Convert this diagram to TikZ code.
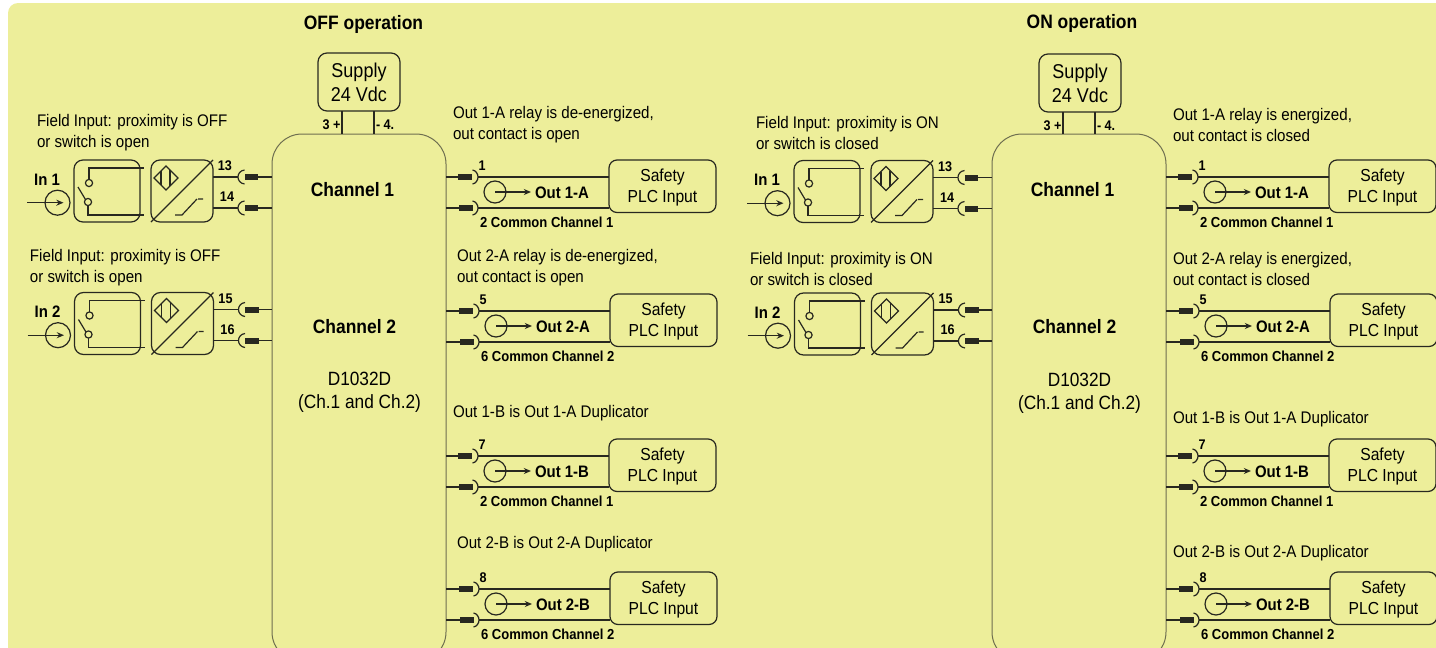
\documentclass[tikz,border=0pt]{standalone}
\usepackage{fontspec}
\setmainfont[FakeStretch=0.9]{Liberation Sans}
\definecolor{bgy}{RGB}{237,238,154}
\definecolor{ink}{RGB}{40,40,32}
\definecolor{edge}{RGB}{110,110,80}
\usetikzlibrary{arrows.meta}
\tikzset{
  ln/.style={draw=ink,line width=0.6pt},
  bx/.style={rectangle,draw=ink,line width=0.6pt,rounded corners=#1,inner sep=0pt,outer sep=0pt},
  bx/.default=4.5pt,
  body/.style={rectangle,draw=edge,line width=0.5pt,rounded corners=15pt,inner sep=0pt,outer sep=0pt},
  tx/.style={inner sep=0pt,outer sep=0pt,text=black,font=\fontsize{8.4}{10.5}\selectfont,align=left,yshift=-0.3pt},
  txc/.style={inner sep=0pt,outer sep=0pt,text=black,align=center},
  sm/.style={inner sep=0pt,outer sep=0pt,text=black,font=\fontsize{7}{8}\selectfont\bfseries},
  cmn/.style={inner sep=0pt,outer sep=0pt,text=black,font=\fontsize{7.25}{8}\selectfont\bfseries},
  lb/.style={inner sep=0pt,outer sep=0pt,text=black,font=\fontsize{8.3}{10}\selectfont\bfseries},
  hd/.style={inner sep=0pt,outer sep=0pt,text=black,font=\fontsize{9.7}{10}\selectfont\bfseries,yshift=-0.5pt},
  blk/.style={rectangle,fill=ink,inner sep=0pt,outer sep=0pt,minimum width=6.75pt,minimum height=3pt},
  arr/.style={ln,-{Stealth[length=3.6pt,width=3pt]}},
  ring/.style={circle,draw=ink,line width=0.6pt,inner sep=0pt,outer sep=0pt},
}
% name, x1,y1,x2,y2, options
\newcommand{\Bx}[6]{\node[#6,minimum width={(#4-#2)*0.5pt},minimum height={(#5-#3)*0.5pt}] (#1) at ({(#2+#4)/2},{(#3+#5)/2}) {};}
% prefix, dx, dy, label, t1, t2, body name
\newcommand{\InBlock}[7]{%
\begin{scope}[shift={(#2,#3)}]
  \node[ring,minimum size=12.5pt] (#1c) at (57.5,202.7) {};
  \coordinate (#1s) at (27,202.7);
  \draw[arr] (#1s) -- (#1c.center) -- ++(6,0);
  \node[lb] (#1n) at (47,179.5) {#4};
  \Bx{#1a}{74}{160}{140}{222}{bx}
  \Bx{#1b}{151}{160}{213}{222}{bx}
  \node[ring,minimum size=3.6pt] (#1u) at (89,183) {};
  \node[ring,minimum size=3.6pt] (#1v) at (88,202) {};
  \coordinate (#1p) at (144,168);
  \coordinate (#1q) at (144,215);
  \draw[ln] (#1u) -- (89,168) -- (#1p);
  \draw[ln] (#1v) -- (88,215) -- (#1q);
  \draw[ln] (78,187) -- (#1v.north west);
  \draw[ln] (#1b.north east) -- (#1b.south west);
  \draw[ln] (166,166) -- (178,178) -- (166,190) -- (154,178) -- cycle;
  \draw[ln] (161,171) -- (161,185) (170,170) -- (170,186);
  \draw[ln] (175,215) -- (182,215) -- (197,199) (198,199) -- (203,199);
  \foreach \yy/\nn/\lx/\tt in {177/1/225/#5,208/2/227/#6}{
    \coordinate (#1t\nn) at (238,\yy);
    \node[blk] (#1r\nn) at (251.5,\yy) {};
    \draw[ln] (#1b.east |- #1t\nn) -- (#1t\nn);
    \draw[ln] (244.5,\yy-7) .. controls (240,\yy-6.5) and (238,\yy-3) .. (#1t\nn) .. controls (238,\yy+3) and (240,\yy+6.5) .. (244.5,\yy+7);
    \draw[ln] (#1r\nn) -- (#7.west |- #1r\nn);
    \node[sm] at (\lx,\yy-11) {\tt};
  }
\end{scope}}
% prefix, dx, dy, out label, t1, common label, body
\newcommand{\OutBlock}[7]{%
\begin{scope}[shift={(#2,#3)}]
  \Bx{#1b}{609}{160}{716}{212.5}{bx=4pt}
  \node[txc,font=\fontsize{8.7}{10.5}\selectfont,yshift=-0.7pt] (#1x) at (#1b) {Safety\\PLC Input};
  \node[ring,minimum size=11pt] (#1c) at (495,192) {};
  \node[lb,anchor=west] (#1l) at (535,192.5) {#4};
  \coordinate (#1e) at (531,192);
  \draw[arr] (#1c.center) -- (#1e);
  \foreach \yy/\nn/\rx in {177/1/465,208/2/466}{
    \coordinate (#1t\nn) at (478,\yy);
    \node[blk] (#1r\nn) at (\rx,\yy) {};
    \draw[ln] (#7.east |- #1r\nn) -- (#1r\nn);
    \draw[ln] (472.5,\yy-7) .. controls (476,\yy-6.5) and (478,\yy-3) .. (#1t\nn) .. controls (478,\yy+3) and (476,\yy+6.5) .. (472.5,\yy+7);
    \draw[ln] (#1t\nn) -- (#1b.west |- #1t\nn);
  }
  \node[sm] (#1m) at (482,166) {#5};
  \node[cmn,anchor=west] (#1k) at (480,222) {#6};
\end{scope}}
\newcommand{\Supply}[3]{%
\begin{scope}[shift={(#2,#3)}]
  \Bx{#1s}{318}{53}{400}{111}{bx}
  \node[txc,font=\fontsize{10}{12}\selectfont] (#1x) at (#1s) {Supply\\24 Vdc};
  \coordinate (#1w1) at (342,111);
  \coordinate (#1w2) at (374,111);
  \draw[ln] (#1w1) -- (#1body.north -| #1w1);
  \draw[ln] (#1w2) -- (#1body.north -| #1w2);
  \node[sm,anchor=east] (#1y) at (340.5,125) {3 +};
  \node[sm,anchor=west] (#1z) at (376,125) {- 4.};
\end{scope}}
\begin{document}
\begin{tikzpicture}[x=0.5pt,y=-0.5pt]
\useasboundingbox (0,0) rectangle (1436,648);
\clip (0,0) rectangle (1436,648);
\fill[bgy,rounded corners=5pt] (8,3) rectangle (1450,670);
% bodies
\Bx{Abody}{272}{134}{446}{662}{body}
\Bx{Bbody}{992}{134}{1166}{662}{body}
% titles
\node[hd] (t1) at (363.5,23) {OFF operation};
\node[hd] (t2) at (1082,22) {ON operation};
\Supply{A}{0}{0}
\Supply{B}{721}{1}
% channel text
\node[hd] (a1) at (352.5,189) {Channel 1};
\node[hd] (a2) at (354.5,326) {Channel 2};
\node[txc,font=\fontsize{9.6}{11.5}\selectfont,yshift=-0.7pt] (a3) at (359.5,391) {D1032D\\(Ch.1 and Ch.2)};
\node[hd] (b1) at (1072.5,189) {Channel 1};
\node[hd] (b2) at (1074.5,326) {Channel 2};
\node[txc,font=\fontsize{9.6}{11.5}\selectfont,yshift=-0.7pt] (b3) at (1079.5,392) {D1032D\\(Ch.1 and Ch.2)};
% inputs
\InBlock{Ai}{0}{0}{In 1}{13}{14}{Abody}
\InBlock{Aj}{0.5}{132.5}{In 2}{15}{16}{Abody}
\InBlock{Bi}{720}{0.5}{In 1}{13}{14}{Bbody}
\InBlock{Bj}{720.5}{133}{In 2}{15}{16}{Bbody}
% input captions
\node[tx,anchor=west] (c1) at (37,132) {Field Input: proximity is OFF\\or switch is open};
\node[tx,anchor=west] (c2) at (30,267.5) {Field Input: proximity is OFF\\or switch is open};
\node[tx,anchor=west] (c3) at (756,132.5) {Field Input: proximity is ON\\or switch is closed};
\node[tx,anchor=west] (c4) at (750,268) {Field Input: proximity is ON\\or switch is closed};
% outputs OFF
\OutBlock{Ao}{0}{0}{Out 1-A}{1}{2 Common Channel 1}{Abody}
\OutBlock{Ap}{1}{134}{Out 2-A}{5}{6 Common Channel 2}{Abody}
\OutBlock{Aq}{0}{279}{Out 1-B}{7}{2 Common Channel 1}{Abody}
\OutBlock{Ar}{1}{412}{Out 2-B}{8}{6 Common Channel 2}{Abody}
% outputs ON
\OutBlock{Bo}{720}{0}{Out 1-A}{1}{2 Common Channel 1}{Bbody}
\OutBlock{Bp}{721}{134}{Out 2-A}{5}{6 Common Channel 2}{Bbody}
\OutBlock{Bq}{720}{279}{Out 1-B}{7}{2 Common Channel 1}{Bbody}
\OutBlock{Br}{721}{412}{Out 2-B}{8}{6 Common Channel 2}{Bbody}
% output captions
\node[tx,anchor=west] (d1) at (453,124.5) {Out 1-A relay is de-energized,\\out contact is open};
\node[tx,anchor=west] (d2) at (457,267.5) {Out 2-A relay is de-energized,\\out contact is open};
\node[tx,anchor=west] (d3) at (453,413) {Out 1-B is Out 1-A Duplicator};
\node[tx,anchor=west] (d4) at (457,544) {Out 2-B is Out 2-A Duplicator};
\node[tx,anchor=west] (e1) at (1173,124.5) {Out 1-A relay is energized,\\out contact is closed};
\node[tx,anchor=west] (e2) at (1173,268.5) {Out 2-A relay is energized,\\out contact is closed};
\node[tx,anchor=west] (e3) at (1173,419) {Out 1-B is Out 1-A Duplicator};
\node[tx,anchor=west] (e4) at (1173,553) {Out 2-B is Out 2-A Duplicator};
\end{tikzpicture}
\end{document}
